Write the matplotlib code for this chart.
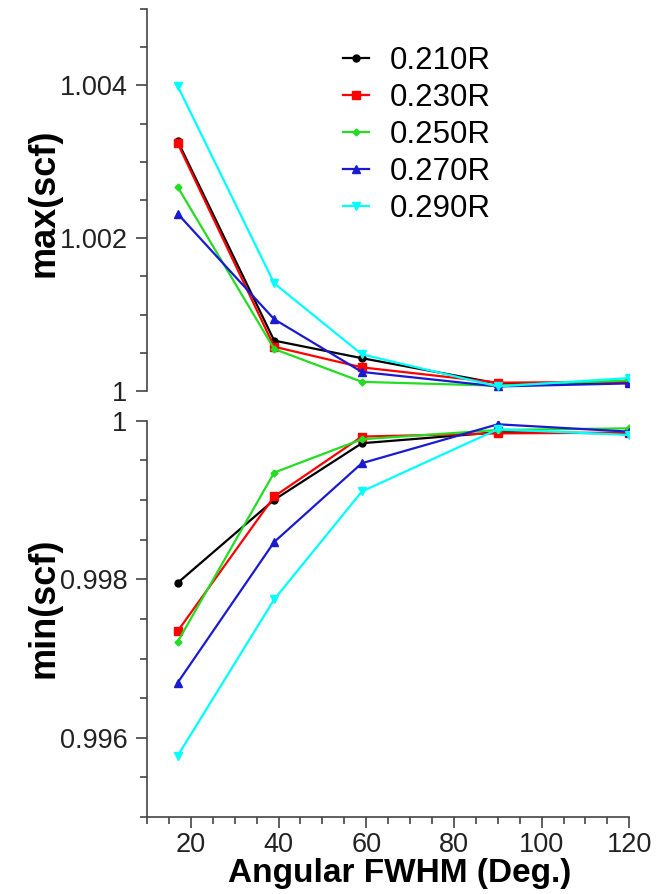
import matplotlib.pyplot as plt
from matplotlib.ticker import MultipleLocator

plt.rcParams['font.family'] = ['Liberation Sans', 'DejaVu Sans']

# --------- data ---------------------------------
fwhm = [17, 39, 59, 90, 120]
labels = ['0.210R', '0.230R', '0.250R', '0.270R', '0.290R']
colors = ['black', 'red', '#22dd22', '#1a1ad0', 'cyan']
markers = ['o', 's', 'D', '^', 'v']
msizes = [5, 6, 3.5, 5.5, 5.5]

max_scf = [
    [1.00327, 1.00066, 1.00043, 1.00010, 1.00011],
    [1.00324, 1.00058, 1.00031, 1.00011, 1.00012],
    [1.00267, 1.00055, 1.00012, 1.00007, 1.00014],
    [1.00232, 1.00094, 1.00025, 1.00006, 1.00010],
    [1.00399, 1.00141, 1.00048, 1.00006, 1.00017],
]
min_scf = [
    [0.997955, 0.999002, 0.999716, 0.999854, 0.999840],
    [0.997346, 0.999044, 0.999800, 0.999840, 0.999850],
    [0.997212, 0.999346, 0.999766, 0.999883, 0.999904],
    [0.996696, 0.998470, 0.999464, 0.999955, 0.999862],
    [0.995774, 0.997745, 0.999107, 0.999892, 0.999820],
]

top_ticks = [1.0, 1.002, 1.004]
top_ticklabels = ['1', '1.002', '1.004']
bot_ticks = [0.996, 0.998, 1.0]
bot_ticklabels = ['0.996', '0.998', '1']
x_ticks = [20, 40, 60, 80, 100, 120]

# --------- figure ----------
fig = plt.figure(figsize=(6.59, 8.94), dpi=100)
ax1 = fig.add_axes([0.2231, 0.5626, 0.7319, 0.4273])
ax2 = fig.add_axes([0.2231, 0.0861, 0.7319, 0.4433])

spine_col = '#444444'
for i in range(len(labels)):
    ax1.plot(fwhm, max_scf[i], color=colors[i], marker=markers[i], ms=msizes[i],
             lw=1.6, label=labels[i])
    ax2.plot(fwhm, min_scf[i], color=colors[i], marker=markers[i], ms=msizes[i],
             lw=1.6, label=labels[i])

for ax in (ax1, ax2):
    ax.set_xlim(10, 120)
    for s in ('top', 'right'):
        ax.spines[s].set_visible(False)
    ax.spines['left'].set_color(spine_col)
    ax.spines['bottom'].set_color(spine_col)
    ax.spines['left'].set_linewidth(1.2)
    ax.spines['bottom'].set_linewidth(1.2)
    ax.yaxis.set_minor_locator(MultipleLocator(0.0005))
    ax.tick_params(axis='both', which='major', direction='out', length=8, width=1.2,
                   color=spine_col, labelsize=19.5, labelcolor='#222222')
    ax.tick_params(axis='both', which='minor', direction='out', length=5, width=1.2,
                   color=spine_col)
    ax.tick_params(axis='y', which='major', pad=6)

ax1.set_ylim(1.0, 1.005)
ax1.set_yticks(top_ticks, top_ticklabels)
ax1.spines['bottom'].set_visible(False)
ax1.tick_params(axis='x', which='both', bottom=False, labelbottom=False)

ax2.set_ylim(0.995, 1.0)
ax2.set_yticks(bot_ticks, bot_ticklabels)
ax2.set_xticks(x_ticks)
ax2.xaxis.set_minor_locator(MultipleLocator(5))
ax2.tick_params(axis='x', which='major', pad=2.5)

fig.text(0.0668, 0.7735, 'max(scf)', rotation=90, ha='center', va='center',
         fontsize=26, fontweight='bold')
fig.text(0.0668, 0.3205, 'min(scf)', rotation=90, ha='center', va='center',
         fontsize=26, fontweight='bold')
fig.text(0.607, 0.0134, 'Angular FWHM (Deg.)', ha='center', va='baseline',
         fontsize=24, fontweight='bold')

ax1.legend(loc='upper left', bbox_to_anchor=(0.38, 0.935), frameon=False,
           fontsize=22.5, handlelength=0.85, handletextpad=0.66, labelspacing=0.22,
           borderaxespad=0)

fig.savefig('out.png', dpi=100)
